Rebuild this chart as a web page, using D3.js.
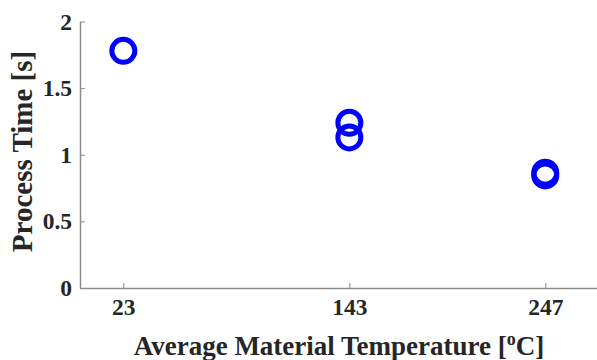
<!DOCTYPE html>
<html>
<head>
<meta charset="utf-8">
<script src="https://cdn.jsdelivr.net/npm/d3@7"></script>
<style>
  body { margin: 0; background: #fff; }
  text { font-family: "Liberation Serif", "Times New Roman", serif; font-weight: bold; fill: #262626; }
</style>
</head>
<body>
<div id="holder"></div>
<script>
var width = 597;
var height = 360;

// measurements
var temps = [23, 143, 143, 247, 247];
var times = [1.78, 1.24, 1.13, 0.845, 0.865];
var xTicks = [23, 143, 247];
var yTicks = [0, 0.5, 1, 1.5, 2];

var x = d3.scaleLinear().domain([0, 275]).range([80, 598]);
var y = d3.scaleLinear().domain([0, 2]).range([288, 21.5]);

var svg = d3.select("#holder")
  .append("svg")
  .attr("width", width)
  .attr("height", height);

// axes, ticks pointing inward like matlab
var xAxis = svg.append("g")
  .attr("transform", "translate(0," + y(0) + ")")
  .call(d3.axisBottom(x).tickValues(xTicks).tickSizeInner(-5).tickSizeOuter(0).tickPadding(8));
var yAxis = svg.append("g")
  .attr("transform", "translate(" + x(0) + ",0)")
  .call(d3.axisLeft(y).tickValues(yTicks).tickSizeInner(-5).tickSizeOuter(0).tickPadding(8).tickFormat(d3.format("")));

[xAxis, yAxis].forEach(function(g){
  g.select(".domain").attr("stroke", "#8c8c8c").attr("stroke-width", 1.5);
  g.selectAll(".tick line").attr("stroke", "#8c8c8c");
  g.selectAll(".tick text").style("font-size", "23.5px").attr("fill", "#262626");
});
xAxis.selectAll(".tick text").attr("dy", "0.8em");

// points
svg.append("g")
  .selectAll("circle")
  .data(temps)
  .enter().append("circle")
  .attr("cx", (d, i) => x(temps[i]))
  .attr("cy", (d, i) => y(times[i]))
  .attr("r", 11.5)
  .attr("fill", "none")
  .attr("stroke", "#0000ff")
  .attr("stroke-width", 5);

// labels
var xl = svg.append("text")
  .attr("x", 339)
  .attr("y", 355)
  .attr("text-anchor", "middle")
  .style("font-size", "27px");
xl.append("tspan").text("Average Material Temperature [");
xl.append("tspan").attr("dy", "-10").style("font-size", "18px").text("o");
xl.append("tspan").attr("dy", "10").text("C]");

svg.append("text")
  .attr("transform", "translate(32,151.5) rotate(-90)")
  .attr("text-anchor", "middle")
  .style("font-size", "29px")
  .text("Process Time [s]");
</script>
</body>
</html>
